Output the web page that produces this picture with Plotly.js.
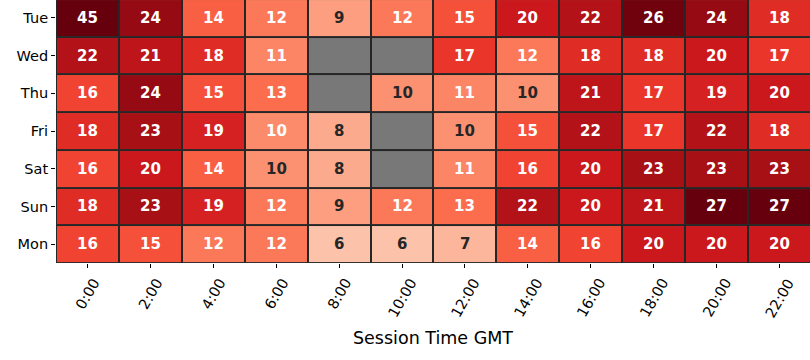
<!DOCTYPE html>
<html>
<head>
<meta charset="utf-8">
<script src="https://cdn.plot.ly/plotly-3.0.1.min.js"></script>
<style>html,body{margin:0;padding:0;background:#fff;}#chart{width:810px;height:360px;}</style>
</head>
<body>
<div id="chart"></div>
<script>
const hours = ["0:00","2:00","4:00","6:00","8:00","10:00","12:00","14:00","16:00","18:00","20:00","22:00"];
const days = ["Tue","Wed","Thu","Fri","Sat","Sun","Mon"];
const tue = [45,24,14,12,9,12,15,20,22,26,24,18];
const wed = [22,21,18,11,null,null,17,12,18,18,20,17];
const thu = [16,24,15,13,null,10,11,10,21,17,19,20];
const fri = [18,23,19,10.5,8,null,10,15,22,17,22,18];
const sat = [16,20,14,10,8,null,11,16,20,23,23,23];
const sun = [18,23,19,12,9,12,13,22,20,21,27,27];
const mon = [16,15,12,12,6,6,7,14,16,20,20,20];
const z = [tue,wed,thu,fri,sat,sun,mon];

const zmin = 0, zmax = 26.5;
const reds = ["#fff5f0","#fee0d2","#fcbba1","#fc9272","#fb6a4a","#ef3b2c","#cb181d","#a50f15","#67000d"];
const colorscale = reds.map((c,i)=>[i/(reds.length-1), c]);

function hex2rgb(h){return [parseInt(h.slice(1,3),16),parseInt(h.slice(3,5),16),parseInt(h.slice(5,7),16)];}
function colorAt(v){
  let t = Math.max(0, Math.min(1, (v - zmin)/(zmax - zmin)));
  const n = reds.length - 1;
  let i = Math.min(Math.floor(t*n), n-1);
  const f = t*n - i;
  const a = hex2rgb(reds[i]), b = hex2rgb(reds[i+1]);
  return a.map((x,k)=>x + (b[k]-x)*f);
}
function lum(rgb){
  const c = rgb.map(x=>{x/=255; return x<=0.03928 ? x/12.92 : Math.pow((x+0.055)/1.055,2.4);});
  return 0.2126*c[0]+0.7152*c[1]+0.0722*c[2];
}
function fmt(v){
  let r = Math.round(v);
  if (Math.abs(v - Math.trunc(v)) === 0.5 && r % 2 !== 0) r -= 1;
  return String(r);
}

const grayZ = days.map(()=>hours.map(()=>1));
const traces = [
  {type:'heatmap', x:hours, y:days, z:grayZ, colorscale:[[0,'#787878'],[1,'#787878']],
   showscale:false, xgap:2, ygap:2, hoverinfo:'skip'},
  {type:'heatmap', x:hours, y:days, z:z, colorscale:colorscale, zmin:zmin, zmax:zmax,
   showscale:false, xgap:2, ygap:2}
];

const annotations = [];
days.forEach((d,r)=>{
  hours.forEach((h,c)=>{
    const v = z[r][c];
    if (v === null) return;
    const col = lum(colorAt(v)) > 0.408 ? '#262626' : '#ffffff';
    annotations.push({x:h, y:d, xref:'x', yref:'y', text:'<b>'+fmt(v)+'</b>', showarrow:false,
      font:{family:'DejaVu Sans', size:15, color:col}});
  });
});
hours.forEach(h=>{
  annotations.push({x:h, xref:'x', y:0, yref:'paper', yshift:-11, text:h, showarrow:false,
    textangle:-60, xanchor:'center', yanchor:'top', borderpad:0,
    font:{family:'DejaVu Sans', size:14.5, color:'#000'}});
});

const layout = {
  width:810, height:360,
  margin:{l:56, r:0, t:0, b:97, pad:0},
  paper_bgcolor:'#ffffff', plot_bgcolor:'#262626',
  font:{family:'DejaVu Sans', size:14.5, color:'#000'},
  xaxis:{type:'category', range:[-0.5, 11.485], showticklabels:false, ticks:'outside', ticklen:4, tickcolor:'#000', tickwidth:1,
    showgrid:false, zeroline:false, showline:false, fixedrange:true,
    title:{text:'Session Time GMT', font:{family:'DejaVu Sans', size:17.5, color:'#000'}, standoff:64}},
  yaxis:{type:'category', range:[6.5, -0.475], ticks:'outside', ticklen:4, tickcolor:'#000', tickwidth:1,
    showgrid:false, zeroline:false, showline:false, fixedrange:true,
    tickfont:{family:'DejaVu Sans', size:14.5, color:'#000'}},
  annotations:annotations,
  showlegend:false
};
Plotly.newPlot('chart', traces, layout, {displayModeBar:false, staticPlot:true});
</script>
</body>
</html>
